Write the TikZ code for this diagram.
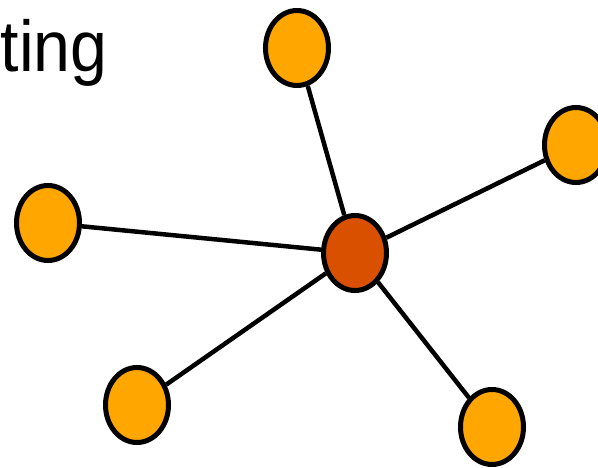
\documentclass[tikz,border=0pt]{standalone}
\usepackage{fontspec}
\setmainfont{Liberation Sans}
\usetikzlibrary{shapes.geometric}
\definecolor{leaf}{RGB}{255,166,0}
\definecolor{hub}{RGB}{216,80,0}
\tikzset{
  dot/.style={ellipse, draw=black, line width=5pt, fill=leaf, minimum width=63pt, minimum height=75pt, inner sep=0pt},
  hubdot/.style={dot, fill=hub},
  link/.style={draw=black, line width=4.5pt}
}
\begin{document}
\begin{tikzpicture}[x=1pt,y=-1pt]
\useasboundingbox (0,0) rectangle (598,468);
\clip (0,0) rectangle (598,468);
\node[anchor=base west, inner sep=0pt, font=\fontsize{72}{86}\selectfont] (title) at (0.5,72) {\scalebox{0.92}[1]{ting}};
\node[hubdot] (c) at (355,253) {};
\node[dot] (t) at (297,48) {};
\node[dot] (r) at (576,145) {};
\node[dot] (l) at (48,223) {};
\node[dot] (bl) at (137,405) {};
\node[dot] (br) at (492,427) {};
\draw[link] (c) -- (t);
\draw[link] (c) -- (r);
\draw[link] (c) -- (l);
\draw[link] (c) -- (bl);
\draw[link] (c) -- (br);
\end{tikzpicture}
\end{document}
